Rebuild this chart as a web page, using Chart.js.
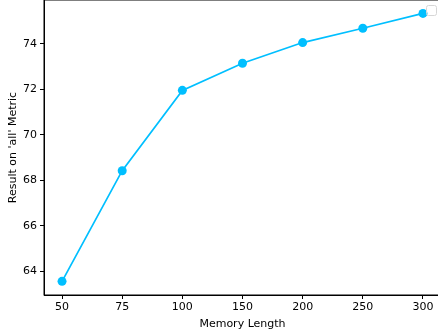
<!DOCTYPE html>
<html>
<head>
<meta charset="utf-8">
<script src="https://cdn.jsdelivr.net/npm/chart.js@4/dist/chart.umd.min.js"></script>
<style>
  html, body { margin: 0; padding: 0; background: #fff; overflow: hidden; }
  #wrap { width: 438px; height: 335px; overflow: hidden; }
</style>
</head>
<body>
<div id="wrap"><canvas id="myChart" width="442" height="335"></canvas></div>
<script>
const memoryLengths = [50, 75, 100, 150, 200, 250, 300];
const results = [63.56, 68.42, 71.95, 73.14, 74.05, 74.68, 75.33];
const yTicks = [64, 66, 68, 70, 72, 74];

const ctx = document.getElementById('myChart');
const font = { family: 'DejaVu Sans', size: 11 };

// matplotlib style box round the plot plus the empty legend frame
const frame = {
    id: 'frame',
    afterDraw(chart) {
        const { ctx, chartArea: a } = chart;
        ctx.save();
        ctx.strokeStyle = '#000';
        ctx.lineWidth = 1;
        ctx.strokeRect(a.left, a.top, a.right - a.left, a.bottom - a.top);
        ctx.strokeStyle = '#d6d6d6';
        ctx.beginPath();
        ctx.roundRect(426.5, 5.5, 10, 10, 2);
        ctx.stroke();
        ctx.restore();
    }
};

const myChart = new Chart(ctx, {
    type: 'line',
    data: {
        datasets: [{
            data: results.map((v, i) => ({ x: i, y: v })),
            borderColor: '#00bfff',
            backgroundColor: '#00bfff',
            borderWidth: 1.7,
            pointRadius: 4.5,
            pointHoverRadius: 4.5,
            pointBorderWidth: 0,
            clip: false,
        }],
    },
    options: {
        responsive: false,
        animation: false,
        layout: { autoPadding: false, padding: { top: 0, right: 1, left: 0, bottom: 0 } },
        plugins: { legend: { display: false }, tooltip: { enabled: false } },
        scales: {
            x: {
                type: 'linear',
                min: -0.3,
                max: 6.3,
                afterBuildTicks: (s) => { s.ticks = memoryLengths.map((m, i) => ({ value: i })); },
                afterFit: (s) => { s.height = 40; s.paddingLeft = 0; s.paddingRight = 0; },
                ticks: {
                    callback: (v) => memoryLengths[v],
                    color: '#000',
                    font: font,
                    padding: 2,
                    maxRotation: 0,
                },
                grid: { drawOnChartArea: false, drawTicks: true, tickLength: 4, color: '#000' },
                border: { display: true, color: '#000' },
                title: { display: true, text: 'Memory Length', color: '#000', font: font, padding: { top: 0, bottom: 4 } },
            },
            y: {
                min: 62.96,
                max: 75.92,
                afterBuildTicks: (s) => { s.ticks = yTicks.map(v => ({ value: v })); },
                afterFit: (s) => { s.width = 44; s.paddingTop = 0; s.paddingBottom = 0; },
                ticks: { color: '#000', font: font, padding: 3 },
                grid: { drawOnChartArea: false, drawTicks: true, tickLength: 4, color: '#000' },
                border: { display: true, color: '#000' },
                title: { display: true, text: "Result on 'all' Metric", color: '#000', font: font, padding: { top: 7, bottom: 0 } },
            },
        },
    },
    plugins: [frame],
});
</script>
</body>
</html>
